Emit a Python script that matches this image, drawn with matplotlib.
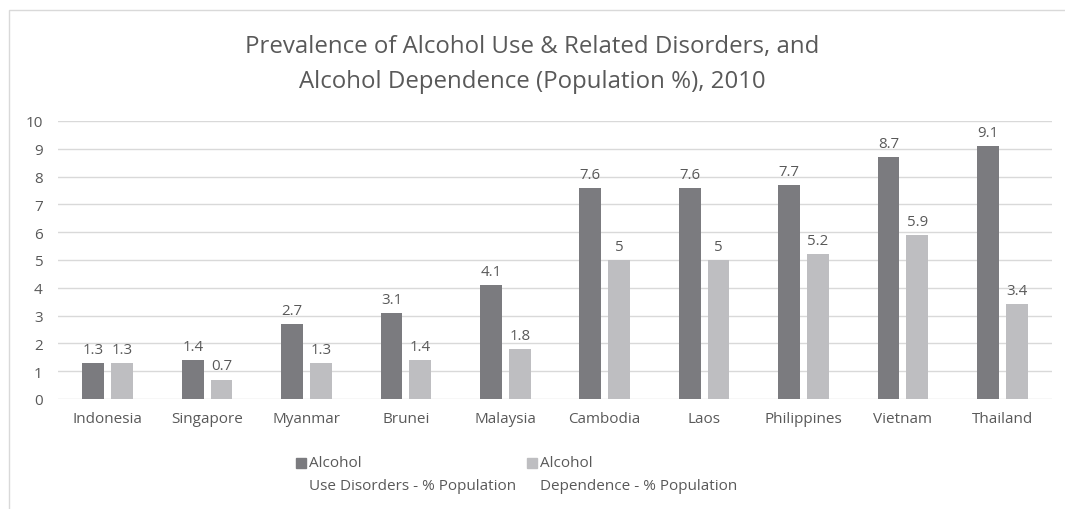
import matplotlib
matplotlib.use("Agg")
import matplotlib.pyplot as plt
from matplotlib.patches import Rectangle
import numpy as np

countries = ["Indonesia", "Singapore", "Myanmar", "Brunei", "Malaysia",
             "Cambodia", "Laos", "Philippines", "Vietnam", "Thailand"]
use_disorders = [1.3, 1.4, 2.7, 3.1, 4.1, 7.6, 7.6, 7.7, 8.7, 9.1]
dependence = [1.3, 0.7, 1.3, 1.4, 1.8, 5.0, 5.0, 5.2, 5.9, 3.4]
series_labels = ["Alcohol\nUse Disorders - % Population",
                 "Alcohol\nDependence - % Population"]

DARK = "#7b7b7f"
LIGHT = "#bebec1"
TEXT = "#595959"
GRID = "#d9d9d9"
W, H = 1065, 510

plt.rcParams["font.family"] = ["Open Sans", "DejaVu Sans"]

fig = plt.figure(figsize=(W / 100, H / 100), dpi=100)
ax = fig.add_axes([58 / W, 1 - 400 / H, (1052 - 58) / W, (400 - 122) / H])

# outer chart frame (only top and left edges fall inside the image)
fig.patches.append(Rectangle((9 / W, -0.1), 1.2, 1.1 - 11 / H,
                             transform=fig.transFigure, fill=False,
                             edgecolor=GRID, linewidth=1.0))

x = np.arange(len(countries))
w = 0.22
gap = 0.035
b1 = ax.bar(x - w / 2 - gap, use_disorders, w, color=DARK, zorder=3)
b2 = ax.bar(x + w / 2 + gap, dependence, w, color=LIGHT, zorder=3)

for bars, vals in ((b1, use_disorders), (b2, dependence)):
    for bar, v in zip(bars, vals):
        ax.text(bar.get_x() + bar.get_width() / 2, v + 0.22, f"{v:g}",
                ha="center", va="bottom", fontsize=10.8, color=TEXT)

ax.set_xlim(-0.5, len(countries) - 0.5)
ax.set_ylim(0, 10)
ax.set_yticks(range(0, 11))
ax.set_xticks(x)
ax.set_xticklabels(countries)
ax.tick_params(axis="both", length=0, labelsize=11, colors=TEXT)
ax.tick_params(axis="x", pad=9)
ax.tick_params(axis="y", pad=11)
ax.grid(axis="y", color=GRID, linewidth=1.0, zorder=0)
for s in ax.spines.values():
    s.set_visible(False)

fig.text(0.5, 1 - 47 / H, "Prevalence of Alcohol Use & Related Disorders, and",
         ha="center", va="center", fontsize=17.3, color=TEXT)
fig.text(0.5, 1 - 82 / H, "Alcohol Dependence (Population %), 2010",
         ha="center", va="center", fontsize=17.3, color=TEXT)

# legend: swatch sits beside the first line of each two-line label
for px, color, label in ((296, DARK, series_labels[0]), (527, LIGHT, series_labels[1])):
    fig.patches.append(Rectangle((px / W, 1 - 469 / H), 10 / W, 10 / H,
                                 transform=fig.transFigure, color=color))
    fig.text((px + 13) / W, 1 - 456 / H, label, ha="left", va="top",
             fontsize=11, color=TEXT, linespacing=1.72)

fig.savefig("out.png", dpi=100)
